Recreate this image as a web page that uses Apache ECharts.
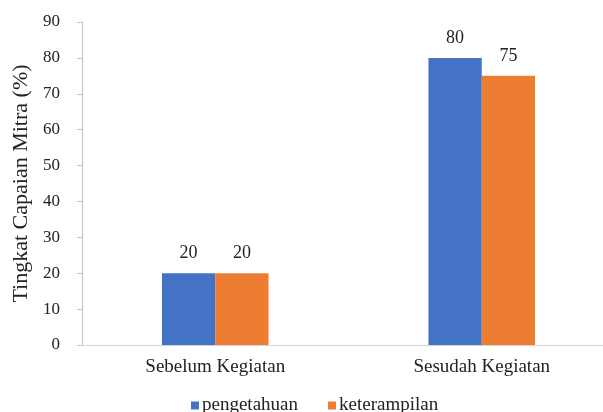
<!DOCTYPE html>
<html><head><meta charset="utf-8">
<script src="https://cdn.jsdelivr.net/npm/echarts@6/dist/echarts.min.js"></script>
<style>html,body{margin:0;padding:0;background:#fff;overflow:hidden}#c{width:615px;height:412px}</style>
</head><body><div id="c"></div>
<script>
var categories = ['Sebelum Kegiatan', 'Sesudah Kegiatan'];
var pengetahuan = [20, 80];
var keterampilan = [20, 75];
var yTicks = [0, 10, 20, 30, 40, 50, 60, 70, 80, 90];
var F = 'Liberation Serif';
var chart = echarts.init(document.getElementById('c'));
chart.setOption({
  animation: false,
  textStyle: {fontFamily: F},
  grid: {left: 82, top: 22, width: 533, height: 323, containLabel: false},
  legend: {
    top: 396, left: 191, itemWidth: 8, itemHeight: 8, itemGap: 30,
    icon: 'rect', padding: 0,
    formatter: '{s|{name}}',
    textStyle: {fontFamily: F, fontSize: 19, color: '#222',
      rich: {s: {fontFamily: F, fontSize: 19, color: '#222', padding: [0, 0, 0, -2]}}},
    data: ['pengetahuan', 'keterampilan']
  },
  xAxis: {
    type: 'category', data: categories,
    axisLine: {lineStyle: {color: '#d4d4d4', width: 1}},
    axisTick: {show: false},
    axisLabel: {fontFamily: F, fontSize: 19, color: '#222', margin: 13}
  },
  yAxis: {
    type: 'value', min: 0, max: 90, interval: 10,
    name: 'Tingkat Capaian Mitra (%)', nameLocation: 'middle', nameGap: 50, nameRotate: 90,
    nameTextStyle: {fontFamily: F, fontSize: 22, color: '#222'},
    axisLine: {show: true, lineStyle: {color: '#b8c6d4'}},
    axisTick: {show: true, length: 5, lineStyle: {color: '#b8c6d4'}},
    splitLine: {show: false},
    axisLabel: {fontFamily: F, fontSize: 17, color: '#222', margin: 22,
      formatter: function(v){ return yTicks.indexOf(v) >= 0 ? String(v) : ''; }}
  },
  series: [
    {name: 'pengetahuan', type: 'bar', data: pengetahuan, barGap: '0%', barCategoryGap: '60%',
     itemStyle: {color: '#4472C4'},
     label: {show: true, position: 'top', distance: 11, fontFamily: F, fontSize: 18, color: '#222'}},
    {name: 'keterampilan', type: 'bar', data: keterampilan, barGap: '0%', barCategoryGap: '60%',
     itemStyle: {color: '#ED7D31'},
     label: {show: true, position: 'top', distance: 11, fontFamily: F, fontSize: 18, color: '#222'}}
  ]
});
</script></body></html>
